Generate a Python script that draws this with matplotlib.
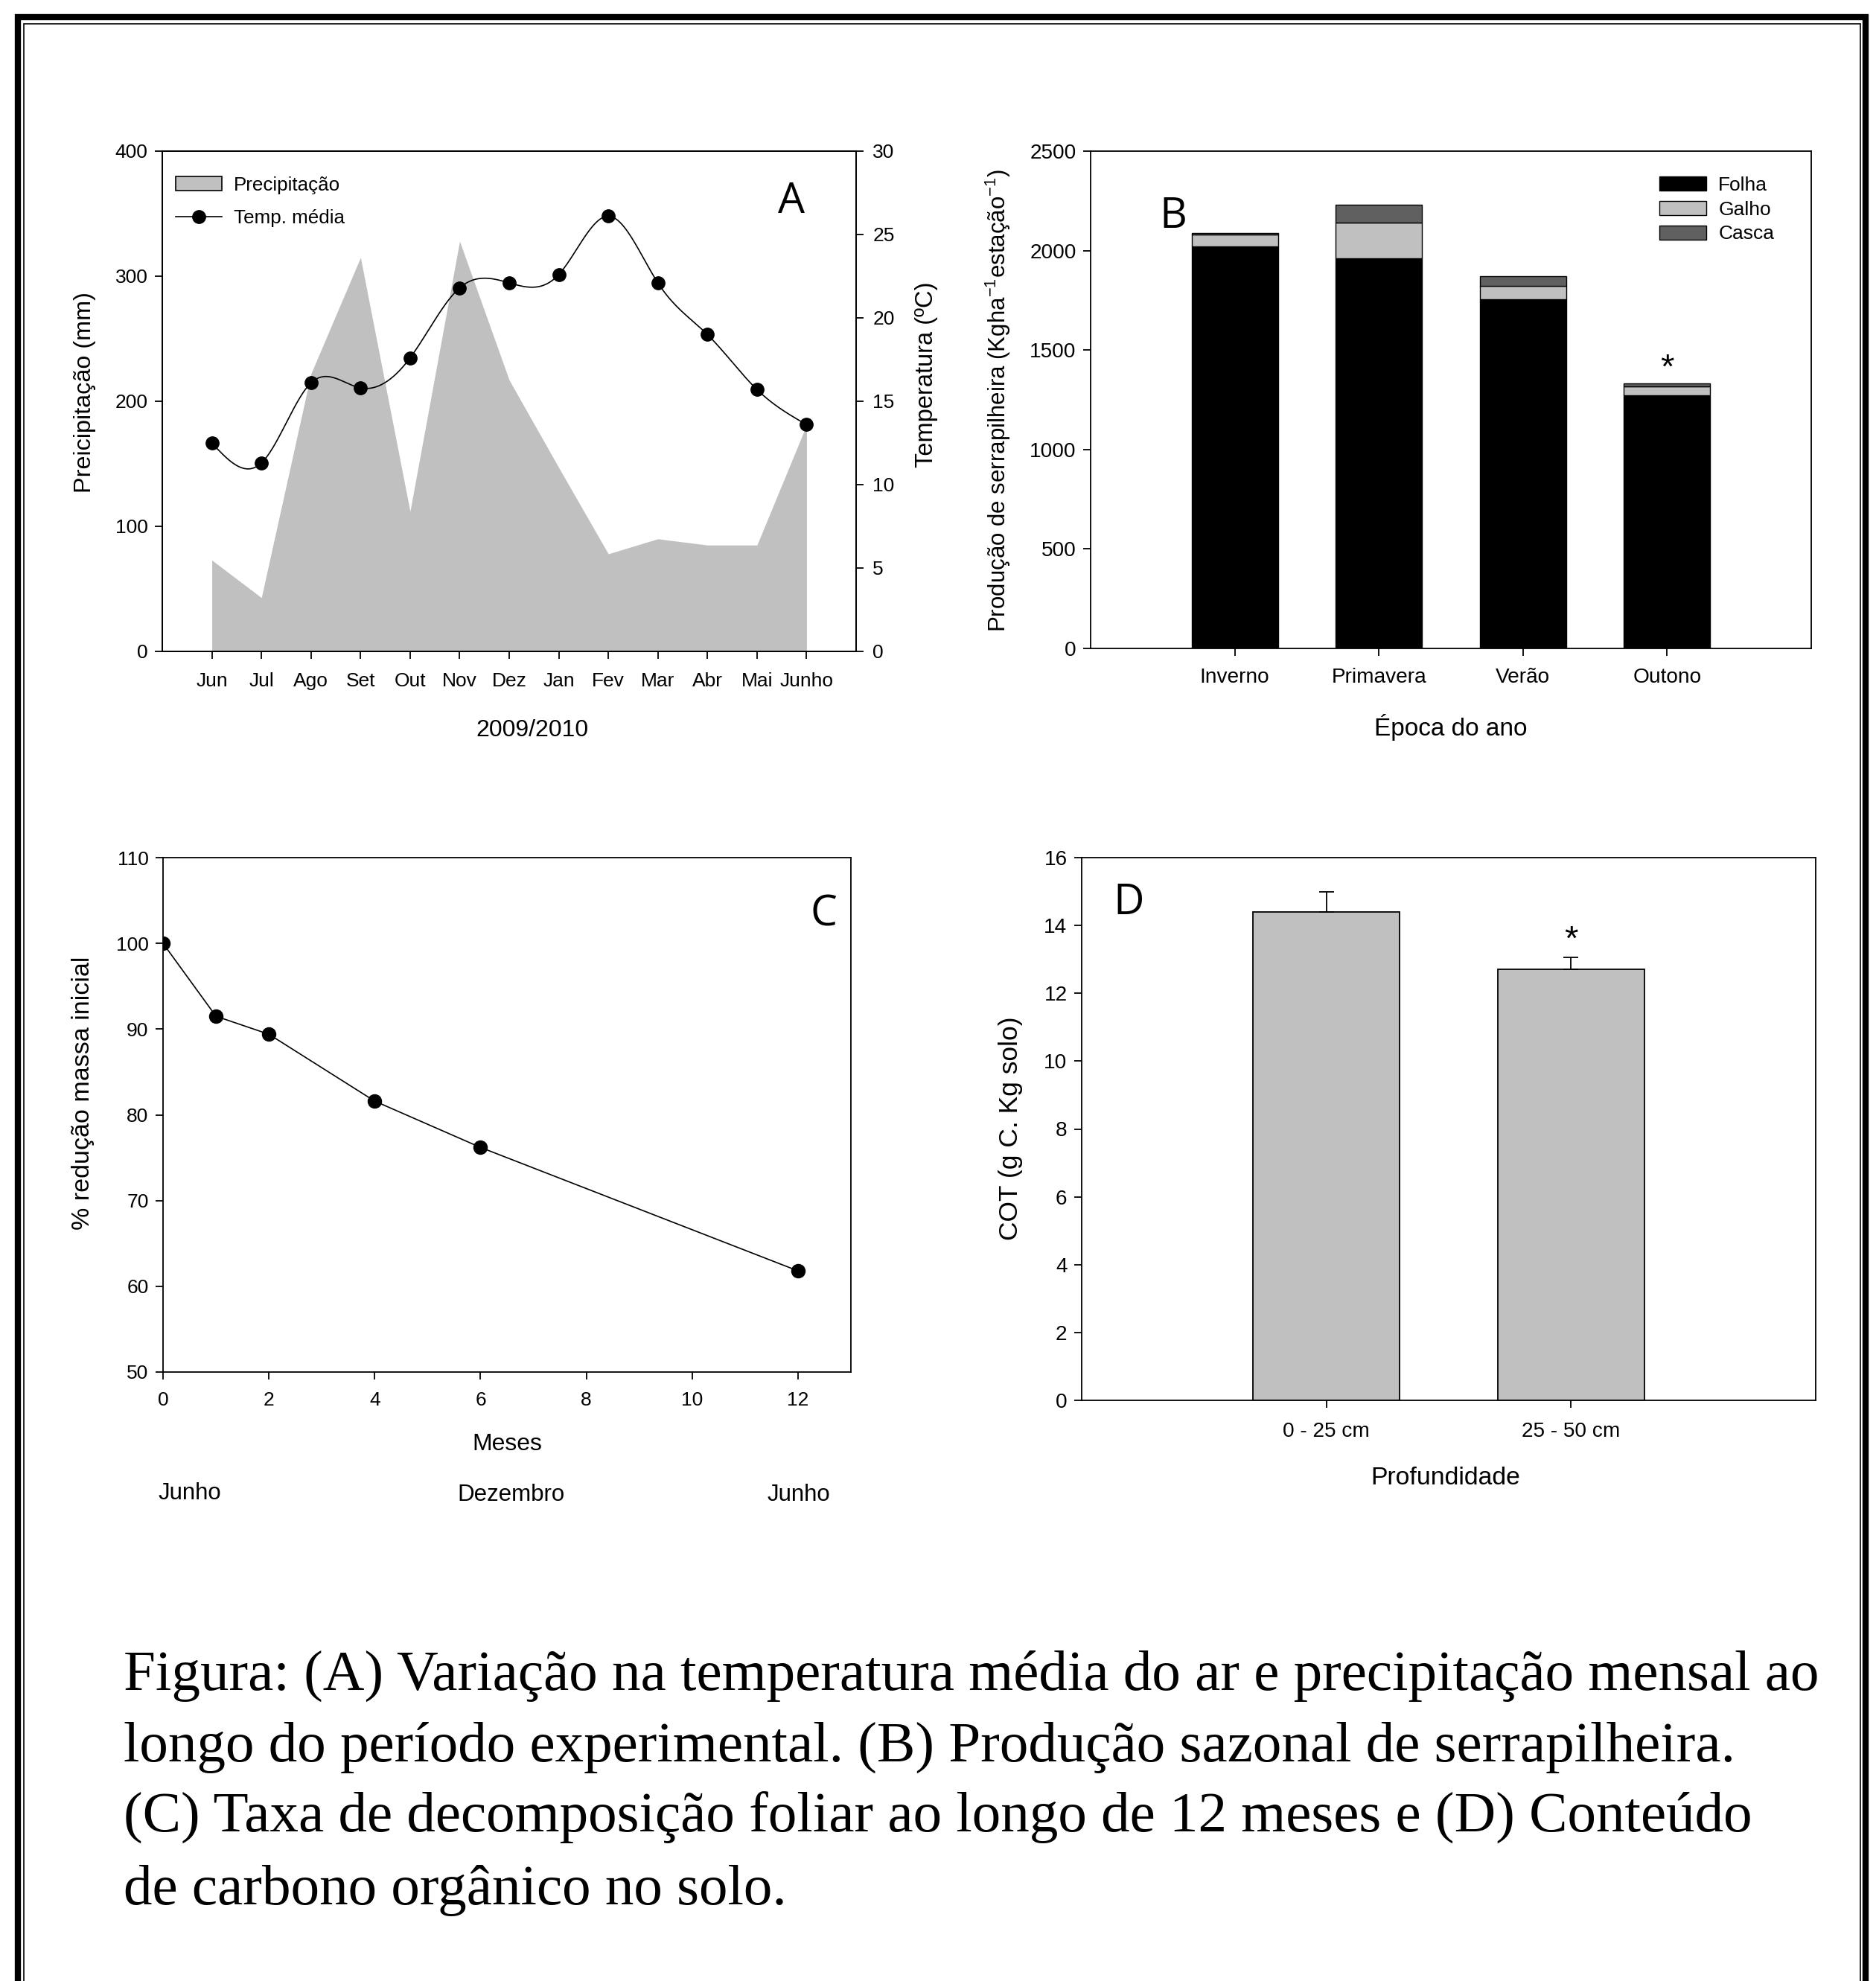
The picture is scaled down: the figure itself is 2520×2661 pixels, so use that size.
import numpy as np
import matplotlib
matplotlib.use("Agg")
import matplotlib.pyplot as plt
from matplotlib.patches import Patch
from matplotlib.lines import Line2D

plt.rcParams['font.family'] = ['Liberation Sans', 'DejaVu Sans']
plt.rcParams['mathtext.fontset'] = 'custom'
plt.rcParams['mathtext.rm'] = 'Liberation Sans'
plt.rcParams['mathtext.it'] = 'Liberation Sans:italic'

# ---------------- data ----------------
months = ["Jun", "Jul", "Ago", "Set", "Out", "Nov", "Dez", "Jan", "Fev", "Mar", "Abr", "Mai", "Junho"]
precip = [73, 43, 222, 315, 112, 328, 217, 147, 78, 90, 85, 85, 181]
temp = [12.5, 11.3, 16.1, 15.8, 17.6, 21.8, 22.1, 22.6, 26.1, 22.1, 19.0, 15.7, 13.6]

seasons = ["Inverno", "Primavera", "Verão", "Outono"]
folha = [2020, 1962, 1755, 1273]
galho = [62, 180, 68, 43]
casca = [5, 88, 50, 17]

decomp_months = [0, 1, 2, 4, 6, 12]
decomp_mass = [100, 91.5, 89.4, 81.6, 76.2, 61.8]

depths = ["0 - 25 cm", "25 - 50 cm"]
cot = [14.4, 12.7]
cot_err = [0.6, 0.35]

caption = ["Figura: (A) Variação na temperatura média do ar e precipitação mensal ao",
           "longo do período experimental. (B) Produção sazonal de serrapilheira.",
           "(C) Taxa de decomposição foliar ao longo de 12 meses e (D) Conteúdo",
           "de carbono orgânico no solo."]

# ---------------- helpers ----------------
W, H = 2520, 2661
DPI = 100
fig = plt.figure(figsize=(W / DPI, H / DPI), dpi=DPI)
fig.patch.set_facecolor('white')

def fx(x):
    return x / W

def fy(y):
    return 1 - y / H

def add_ax(l, t, r, b):
    return fig.add_axes([fx(l), fy(b), (r - l) / W, (b - t) / H])

def natural_spline(x, y, xs):
    x = np.asarray(x, float); y = np.asarray(y, float)
    n = len(x); h = np.diff(x)
    A = np.zeros((n, n)); rhs = np.zeros(n)
    A[0, 0] = 1; A[-1, -1] = 1
    for i in range(1, n - 1):
        A[i, i - 1] = h[i - 1]
        A[i, i] = 2 * (h[i - 1] + h[i])
        A[i, i + 1] = h[i]
        rhs[i] = 6 * ((y[i + 1] - y[i]) / h[i] - (y[i] - y[i - 1]) / h[i - 1])
    M = np.linalg.solve(A, rhs)
    idx = np.clip(np.searchsorted(x, xs) - 1, 0, n - 2)
    x0 = x[idx]; x1 = x[idx + 1]; hh = x1 - x0
    a = (x1 - xs) / hh; b = (xs - x0) / hh
    return (a * y[idx] + b * y[idx + 1] +
            ((a ** 3 - a) * M[idx] + (b ** 3 - b) * M[idx + 1]) * hh ** 2 / 6)

SPW = 1.3
LETTER = dict(family=['Open Sans', 'DejaVu Sans'], fontsize=41)

def style(ax, size):
    for s in ax.spines.values():
        s.set_linewidth(SPW)
    ax.tick_params(direction='out', length=7, width=SPW, labelsize=size, pad=7)

# ---------------- Panel A ----------------
axA = add_ax(218, 203, 1150, 875)
xm = np.arange(1, len(months) + 1)
axA.fill_between(xm, 0, precip, color='#c0c0c0', linewidth=0)
axA.set_xlim(0, 14)
axA.set_ylim(0, 400)
axA.set_yticks([0, 100, 200, 300, 400])
axA.set_xticks(xm)
axA.set_xticklabels(months)
style(axA, 19)
axA.tick_params(axis='x', pad=13)
axA.tick_params(axis='y', right=False)
axA2 = axA.twinx()
axA2.set_ylim(0, 30)
axA2.set_yticks([0, 5, 10, 15, 20, 25, 30])
style(axA2, 19)
axA2.tick_params(axis='y', pad=9)
xs = np.linspace(1, 13, 600)
axA2.plot(xs, natural_spline(xm, temp, xs), color='black', lw=1.2)
axA2.plot(xm, temp, 'o', color='black', ms=12.5)
axA2.set_zorder(axA.get_zorder() + 1)
axA2.patch.set_visible(False)
fig.text(fx(114), fy(527), "Preicipitação (mm)", rotation=90, ha='center', va='center', fontsize=23.3)
fig.text(fx(1244), fy(503), "Temperatura (ºC)", rotation=90, ha='center', va='center', fontsize=23.5)
fig.text(fx(715), fy(981), "2009/2010", ha='center', va='center', fontsize=23)
fig.text(fx(1063), fy(272), "A", ha='center', va='center', **LETTER)
hA = [Patch(facecolor='#c0c0c0', edgecolor='black', linewidth=1.2),
      Line2D([], [], color='black', lw=1.2, marker='o', ms=12.5)]
axA2.legend(hA, ["Precipitação", "Temp. média"], loc='upper left',
            bbox_to_anchor=((236 - 218) / 932, 1 - (237 - 203) / 672),
            frameon=False, fontsize=18.7, borderaxespad=0, borderpad=0,
            handlelength=2.4, handleheight=0.75, handletextpad=0.6, labelspacing=0.78)

# ---------------- Panel B ----------------
axB = add_ax(1465, 203, 2433, 871)
xb = np.arange(1, len(seasons) + 1)
bot2 = np.array(folha) + np.array(galho)
axB.bar(xb, folha, width=0.6, color='black', edgecolor='black', linewidth=1.0, label='Folha')
axB.bar(xb, galho, width=0.6, bottom=folha, color='#c0c0c0', edgecolor='black', linewidth=1.0, label='Galho')
axB.bar(xb, casca, width=0.6, bottom=bot2, color='#606060', edgecolor='black', linewidth=1.0, label='Casca')
axB.set_xlim(0, 5)
axB.set_ylim(0, 2500)
axB.set_yticks([0, 500, 1000, 1500, 2000, 2500])
axB.set_xticks(xb)
axB.set_xticklabels(seasons)
style(axB, 20.2)
axB.tick_params(axis='x', pad=12)
axB.text(4, 1405, "*", ha='center', va='center', fontsize=34)
fig.text(fx(1341), fy(538), r"Produção de serrapilheira (Kgha$^{\mathregular{-1}}$estação$^{\mathregular{-1}}$)",
         rotation=90, ha='center', va='center', fontsize=22.5)
fig.text(fx(1949), fy(977), "Época do ano", ha='center', va='center', fontsize=24)
fig.text(fx(1576), fy(292), "B", ha='center', va='center', **LETTER)
axB.legend(loc='upper left', bbox_to_anchor=((2229 - 1465) / 968, 1 - (237 - 203) / 668),
           frameon=False, fontsize=19, borderaxespad=0, borderpad=0,
           handlelength=2.4, handleheight=0.75, handletextpad=0.6, labelspacing=0.33)

# ---------------- Panel C ----------------
axC = add_ax(219, 1152, 1143, 1843)
axC.plot(decomp_months, decomp_mass, '-o', color='black', lw=1.2, ms=13)
axC.set_xlim(0, 13)
axC.set_ylim(50, 110)
axC.set_xticks([0, 2, 4, 6, 8, 10, 12])
axC.set_yticks([50, 60, 70, 80, 90, 100, 110])
style(axC, 19)
axC.tick_params(axis='x', pad=12)
fig.text(fx(112), fy(1468), "% redução massa inicial", rotation=90, ha='center', va='center', fontsize=24.5)
fig.text(fx(681), fy(1940), "Meses", ha='center', va='center', fontsize=23)
fig.text(fx(255), fy(2006), "Junho", ha='center', va='center', fontsize=22.5)
fig.text(fx(687), fy(2008), "Dezembro", ha='center', va='center', fontsize=22.5)
fig.text(fx(1073), fy(2008), "Junho", ha='center', va='center', fontsize=22.5)
fig.text(fx(1107), fy(1229), "C", ha='center', va='center', **LETTER)

# ---------------- Panel D ----------------
axD = add_ax(1453, 1152, 2439, 1881)
xd = np.arange(1, len(depths) + 1)
axD.bar(xd, cot, width=0.6, color='#c0c0c0', edgecolor='black', linewidth=1.3)
axD.errorbar(xd, cot, yerr=[np.zeros(len(cot)), cot_err], fmt='none', ecolor='black',
             elinewidth=1.3, capsize=7, capthick=1.3)
axD.set_xlim(0, 3)
axD.set_ylim(0, 16)
axD.set_yticks(np.arange(0, 17, 2))
axD.set_xticks(xd)
axD.set_xticklabels(depths)
style(axD, 20.2)
axD.tick_params(axis='x', pad=14)
axD.text(2, 13.55, "*", ha='center', va='center', fontsize=34)
fig.text(fx(1358), fy(1516), "COT (g C. Kg solo)", rotation=90, ha='center', va='center', fontsize=25.5)
fig.text(fx(1942), fy(1985), "Profundidade", ha='center', va='center', fontsize=24.3)
fig.text(fx(1516), fy(1214), "D", ha='center', va='center', **LETTER)

# ---------------- Caption ----------------
baselines = [2270, 2366, 2461, 2558]
for line, yb in zip(caption, baselines):
    fig.text(fx(166), fy(yb), line, ha='left', va='baseline', fontsize=55.5,
             family=['Liberation Serif', 'DejaVu Serif'])

# ---------------- Border ----------------
fig.add_artist(Line2D([fx(24), fx(24), fx(2506), fx(2506)], [fy(H + 10), fy(23), fy(23), fy(H + 10)],
                      color='black', lw=6, solid_joinstyle='miter', transform=fig.transFigure))
fig.add_artist(Line2D([fx(31.5), fx(31.5), fx(2499), fx(2499)], [fy(H + 10), fy(31.5), fy(31.5), fy(H + 10)],
                      color='black', lw=1.2, solid_joinstyle='miter', transform=fig.transFigure))

fig.savefig("out.png", dpi=DPI, facecolor='white')
